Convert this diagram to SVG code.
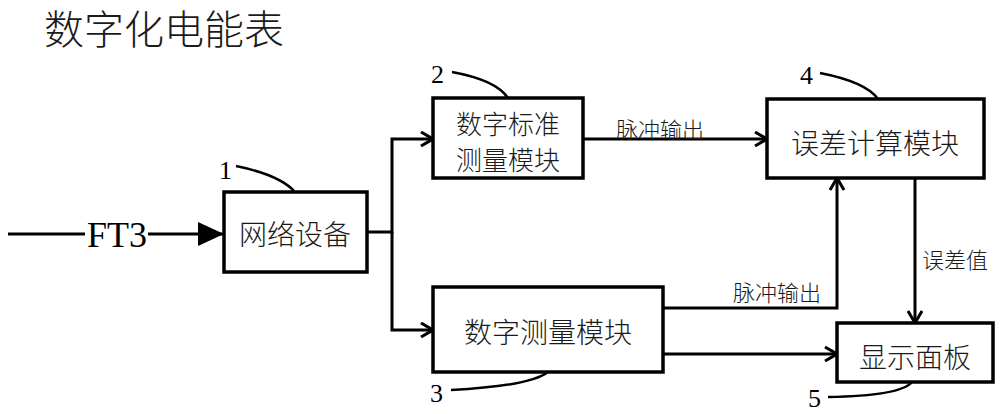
<svg xmlns="http://www.w3.org/2000/svg" width="1000" height="414" viewBox="0 0 1000 414">
<style>
.box{fill:#fff;stroke:#000;stroke-width:3.5}
.ln{fill:none;stroke:#000;stroke-width:3}
.lead{fill:none;stroke:#000;stroke-width:2.5}
.cn{font-family:"Noto Sans CJK SC","Liberation Sans",sans-serif;font-size:28px;fill:#1a1a1a;text-anchor:middle;dominant-baseline:central;font-weight:300}
.cn2{font-family:"Noto Sans CJK SC","Liberation Sans",sans-serif;font-size:26px;fill:#1a1a1a;text-anchor:middle;font-weight:300}
.sm{font-family:"Noto Sans CJK SC","Liberation Sans",sans-serif;font-size:22px;fill:#1a1a1a;font-weight:300}
.num{font-family:"Liberation Serif",serif;font-size:26px;fill:#000}
</style>
<defs>
<marker id="open" viewBox="0 0 14 16" refX="13" refY="8" markerWidth="14" markerHeight="16" markerUnits="userSpaceOnUse" orient="auto">
<path d="M1,1 L13,8 L1,15" fill="none" stroke="#000" stroke-width="3"/>
</marker>
<marker id="solid" viewBox="0 0 26 24" refX="26" refY="12" markerWidth="26" markerHeight="24" markerUnits="userSpaceOnUse" orient="auto">
<path d="M0,0 L26,12 L0,24 Z" fill="#000"/>
</marker>
</defs>
<rect width="1000" height="414" fill="#fff"/>
<text x="44" y="44" font-family="Noto Sans CJK SC,Liberation Sans,sans-serif" font-size="40" font-weight="300" fill="#1a1a1a">数字化电能表</text>
<g id="connectors">
<line class="ln" x1="8" y1="234" x2="85" y2="234"/>
<line class="ln" x1="148" y1="234" x2="224" y2="234" marker-end="url(#solid)"/>
<text x="87" y="247" font-family="Liberation Serif,serif" font-size="36" fill="#000">FT3</text>
<polyline class="ln" points="367,232 392,232 392,139 433,139" marker-end="url(#open)"/>
<polyline class="ln" points="392,232 392,330 433,330" marker-end="url(#open)"/>
<line class="ln" x1="583" y1="139" x2="767" y2="139" marker-end="url(#open)"/>
<text class="sm" x="616" y="138">脉冲输出</text>
<polyline class="ln" points="663,308 837,308 837,178" marker-end="url(#open)"/>
<text class="sm" x="733" y="301">脉冲输出</text>
<line class="ln" x1="663" y1="354" x2="837" y2="354" marker-end="url(#open)"/>
<line class="ln" x1="915" y1="178" x2="915" y2="323" marker-end="url(#open)"/>
<text class="sm" x="922" y="268">误差值</text>
</g>
<g id="node1">
<rect class="box" x="224" y="192" width="143" height="80"/>
<text class="cn" x="295" y="233">网络设备</text>
<text class="num" x="219" y="179">1</text>
<path class="lead" d="M236,166 Q280,175 295,192"/>
</g>
<g id="node2">
<rect class="box" x="433" y="98" width="150" height="80"/>
<text class="cn2" x="508" y="134">数字标准</text>
<text class="cn2" x="508" y="170">测量模块</text>
<text class="num" x="431" y="83">2</text>
<path class="lead" d="M452,72 Q496,80 508,98"/>
</g>
<g id="node3">
<rect class="box" x="433" y="287" width="230" height="85"/>
<text class="cn" x="548" y="331">数字测量模块</text>
<text class="num" x="430" y="402">3</text>
<path class="lead" d="M451,390 Q530,386 548,372"/>
</g>
<g id="node4">
<rect class="box" x="767" y="99" width="217" height="79"/>
<text class="cn" x="875" y="142">误差计算模块</text>
<text class="num" x="800" y="84">4</text>
<path class="lead" d="M820,73 Q866,82 878,99"/>
</g>
<g id="node5">
<rect class="box" x="837" y="323" width="156" height="59"/>
<text class="cn" x="915" y="356">显示面板</text>
<text class="num" x="808" y="407">5</text>
<path class="lead" d="M828,397 Q900,396 912,382"/>
</g>
</svg>
